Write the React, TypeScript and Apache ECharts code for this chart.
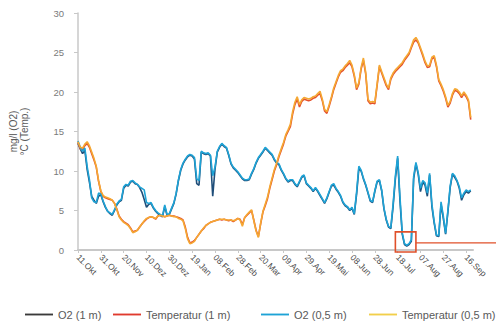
import React, { useEffect, useRef } from "react";
import * as echarts from "echarts";

// Messreihe: Werte alle 2 Tage ab dem 11. Oktober
const startDate = Date.UTC(2014, 9, 11);
const stepDays = 2;
const categoryCount = 174;
const monthNames = ["Jan", "Feb", "Mar", "Apr", "Mai", "Jun", "Jul", "Aug", "Sep", "Okt", "Nov", "Dez"];

const o2OneMeter = [
  13.5, 12.8, 12.2, 12.6, 10.2, 8.6, 6.8, 6.3, 5.9, 6.8,
  7.0, 6.1, 5.4, 4.9, 4.6, 4.4, 5.0, 5.7, 6.1, 6.3,
  7.8, 8.2, 8.1, 8.6, 8.7, 8.4, 8.3, 7.9, 7.3, 6.4,
  5.4, 5.8, 5.9, 5.3, 4.9, 4.6, 4.4, 4.2, 5.5, 4.4,
  4.5, 5.2, 5.9, 7.1, 8.8, 10.1, 10.9, 11.4, 11.8, 12.0,
  11.9, 11.5, 8.4, 8.2, 12.4, 12.2, 12.1, 12.2, 11.9, 6.8,
  10.2, 12.4, 13.0, 13.4, 13.1, 12.9, 12.0, 10.9, 10.4, 10.1,
  9.8, 9.4, 9.0, 8.8, 8.8, 8.9, 9.6, 10.2, 11.0, 11.6,
  12.0, 12.4, 12.9, 12.6, 12.3, 12.0, 11.4, 11.0, 10.8, 10.1,
  9.6, 9.0, 8.6, 8.8, 8.8, 8.3, 8.0, 8.6, 9.2, 9.4,
  8.4, 8.1, 7.8, 7.4, 7.8, 7.4, 6.9, 6.4, 5.9, 6.5,
  7.3, 8.1, 8.2, 7.7, 7.3, 6.8, 6.0, 5.6, 5.4, 5.0,
  5.3, 4.5, 7.0, 10.3, 10.0, 9.0, 8.2, 7.2, 6.2, 6.0,
  7.4, 8.6, 8.8, 7.5, 5.2, 3.8, 2.9, 2.7, 5.5, 9.0,
  11.6, 6.3, 2.0, 0.7, 0.5, 0.7, 1.1, 9.0, 10.9, 9.6,
  7.4, 8.6, 8.2, 6.8, 9.5, 5.5, 3.4, 1.8, 1.7, 5.8,
  4.0, 2.0, 4.8, 7.9, 9.6, 9.2, 8.7, 7.8, 6.3, 7.0,
  7.4, 7.2, 7.5,
];

const o2HalfMeter = [
  13.8, 13.0, 12.5, 12.9, 10.6, 8.9, 6.6, 6.1, 6.0, 7.2,
  7.1, 6.2, 5.5, 4.9, 4.7, 4.5, 5.1, 5.8, 6.2, 6.4,
  8.0, 8.3, 8.2, 8.7, 8.8, 8.5, 8.3, 8.0, 7.8, 7.6,
  6.0, 5.9, 6.0, 5.4, 5.0, 4.7, 4.5, 4.3, 5.7, 4.5,
  4.6, 5.3, 6.0, 7.2, 8.9, 10.2, 11.0, 11.5, 11.9, 12.1,
  12.0, 11.7, 9.0, 8.8, 12.5, 12.3, 12.2, 12.3, 12.0, 9.4,
  10.5, 12.5, 13.1, 13.5, 13.2, 13.0, 12.1, 11.0, 10.5, 10.2,
  9.9, 9.5, 9.1, 8.9, 8.9, 9.0, 9.7, 10.3, 11.1, 11.7,
  12.1, 12.5, 13.0, 12.7, 12.4, 12.1, 11.5, 11.1, 10.9, 10.2,
  9.7, 9.1, 8.7, 8.9, 8.9, 8.4, 8.1, 8.7, 9.3, 9.5,
  8.5, 8.2, 7.9, 7.5, 7.9, 7.5, 7.0, 6.5, 6.0, 6.6,
  7.4, 8.2, 8.4, 7.8, 7.4, 6.9, 6.1, 5.7, 5.5, 5.1,
  5.4, 4.6, 7.3, 10.6, 10.1, 9.1, 8.3, 7.3, 6.3, 6.1,
  7.5, 8.7, 8.9, 7.6, 5.3, 3.9, 3.0, 2.8, 5.8, 9.4,
  11.9, 6.8, 2.2, 0.8, 0.6, 0.8, 1.3, 9.3, 11.1, 9.8,
  7.8, 8.8, 8.5, 7.2, 9.7, 5.8, 3.6, 1.9, 1.8, 6.1,
  4.3, 2.1, 5.0, 8.1, 9.7, 9.4, 8.8, 8.0, 6.6, 7.2,
  7.6, 7.4, 7.6,
];

const tempOneMeter = [
  13.6, 12.8, 12.7, 13.2, 13.5, 13.0, 12.2, 11.4, 10.5, 8.7,
  7.4, 6.8, 6.6, 6.5, 6.4, 6.3, 5.9, 5.2, 4.3, 3.9,
  3.6, 3.4, 3.2, 2.8, 2.3, 2.4, 2.5, 2.9, 3.3, 3.6,
  3.9, 4.1, 4.2, 4.1, 3.9, 4.3, 4.4, 4.3, 4.2, 4.3,
  4.4, 4.3, 4.3, 4.2, 4.1, 4.0, 3.8, 2.9, 1.6, 0.9,
  1.0, 1.2, 1.6, 2.0, 2.4, 2.7, 3.1, 3.3, 3.5, 3.6,
  3.7, 3.8, 3.9, 3.8, 3.9, 3.8, 3.7, 3.8, 3.6, 3.8,
  4.0, 3.9, 3.2, 4.1, 4.4, 4.7, 5.0, 3.8, 2.5, 1.7,
  3.3, 4.8, 5.6, 6.5, 7.8, 8.9, 10.0, 10.8, 11.8, 12.6,
  13.4, 14.4, 15.0, 15.6, 17.2, 18.4, 19.1, 18.1, 18.8, 19.1,
  19.0, 18.9, 19.0, 19.2, 19.3, 19.6, 19.8, 18.9, 17.6, 17.3,
  18.2, 19.2, 20.3, 21.1, 21.9, 22.5, 22.7, 23.1, 23.4, 23.7,
  23.2, 22.0, 20.3, 21.0, 22.9, 24.0, 22.3, 18.9, 18.5, 18.6,
  18.5, 20.8, 23.2, 22.4, 21.6, 20.8, 20.3, 21.6, 22.2, 22.6,
  22.9, 23.2, 23.5, 24.0, 24.4, 24.8, 25.6, 26.3, 26.6, 26.2,
  25.4, 24.6, 23.7, 23.1, 23.2, 24.2, 24.4, 23.2, 21.4, 20.8,
  20.1, 19.2, 18.1, 18.6, 19.6, 20.2, 20.1, 19.8, 19.3, 19.8,
  19.4, 18.8, 16.5,
];

const tempHalfMeter = [
  13.7, 13.0, 12.9, 13.4, 13.7, 13.2, 12.4, 11.6, 10.6, 8.8,
  7.5, 6.9, 6.7, 6.6, 6.5, 6.3, 5.9, 5.1, 4.2, 3.8,
  3.5, 3.3, 3.1, 2.7, 2.2, 2.3, 2.5, 2.9, 3.3, 3.7,
  4.0, 4.1, 4.2, 4.1, 4.0, 4.3, 4.4, 4.3, 4.2, 4.3,
  4.4, 4.3, 4.2, 4.2, 4.0, 3.9, 3.7, 2.7, 1.4, 0.8,
  0.9, 1.1, 1.6, 2.0, 2.4, 2.8, 3.1, 3.3, 3.5, 3.6,
  3.7, 3.8, 3.9, 3.9, 3.9, 3.8, 3.8, 3.8, 3.7, 3.8,
  4.0, 3.8, 3.0, 4.1, 4.5, 4.8, 5.1, 3.7, 2.4, 1.6,
  3.4, 4.9, 5.8, 6.7, 8.0, 9.1, 10.2, 11.0, 12.0, 12.8,
  13.6, 14.6, 15.2, 15.9, 17.5, 18.7, 19.4, 18.4, 19.0, 19.3,
  19.2, 19.1, 19.2, 19.4, 19.5, 19.8, 20.1, 19.1, 17.8, 17.5,
  18.4, 19.4, 20.5, 21.3, 22.1, 22.7, 22.9, 23.3, 23.6, 24.0,
  23.4, 22.2, 20.5, 21.2, 23.1, 24.3, 22.5, 19.1, 18.7, 18.8,
  18.7, 21.0, 23.4, 22.6, 21.8, 21.0, 20.5, 21.8, 22.4, 22.8,
  23.1, 23.4, 23.7, 24.2, 24.6, 25.0, 25.8, 26.6, 26.9, 26.4,
  25.6, 24.8, 23.9, 23.3, 23.4, 24.4, 24.6, 23.4, 21.6, 21.0,
  20.3, 19.4, 18.3, 18.8, 19.8, 20.4, 20.3, 20.0, 19.5, 20.0,
  19.6, 19.0, 16.8,
];

// Hervorgehobener Sauerstoff-Tiefpunkt im Juli (Kategorie-Index, Messwert)
const lowBoxFrom = [139.3, 2.3];
const lowBoxTo = [147.6, 0];
const lowLineLevel = 0.9;

const seriesNames = ["O2 (1 m)", "Temperatur (1 m)", "O2 (0,5 m)", "Temperatur (0,5 m)"];
const seriesColors = ["#1f4e79", "#e4502c", "#1ea3d6", "#f5a833"];
const legendColors = ["#3a3a3a", "#e03a2e", "#1ea3d6", "#f2cf4a"];
const legendLefts = [20, 108, 256, 364];

function formatDay(index: number): string {
  const d = new Date(startDate + index * stepDays * 86400000);
  const day = String(d.getUTCDate()).padStart(2, "0");
  return `${day}.${monthNames[d.getUTCMonth()]}`;
}

const categories = Array.from({ length: categoryCount }, (_, i) => formatDay(i));

export default function App() {
  const ref = useRef<HTMLDivElement>(null);

  useEffect(() => {
    if (!ref.current) return;
    const chart = echarts.init(ref.current, null, { renderer: "svg" });
    const font = "'Liberation Sans', Arial, sans-serif";
    const values = [o2OneMeter, tempOneMeter, o2HalfMeter, tempHalfMeter];

    chart.setOption({
      animation: false,
      textStyle: { fontFamily: font },
      grid: { left: 63, right: 23, top: 13, bottom: 75, containLabel: false },
      // one legend block per series so each entry sits at its own position
      legend: seriesNames.map((n, i) => ({
        top: 304,
        left: legendLefts[i],
        itemWidth: 28,
        itemHeight: 10,
        itemGap: 0,
        icon: "path://M0,4 L30,4 L30,6 L0,6 Z",
        textStyle: { fontSize: 11, color: "#595959", fontFamily: font },
        data: [{ name: n, itemStyle: { color: legendColors[i] } }],
      })),
      xAxis: {
        type: "category",
        data: categories,
        boundaryGap: false,
        axisLine: { lineStyle: { color: "#c8c8c8", width: 2 } },
        axisTick: { show: true, interval: 9, length: 3, lineStyle: { color: "#c8c8c8" } },
        axisLabel: {
          interval: 9,
          rotate: -45,
          fontSize: 8.5,
          color: "#4a4a4a",
          margin: 6,
          fontFamily: font,
        },
        splitLine: { show: false },
      },
      yAxis: {
        type: "value",
        min: 0,
        max: 30,
        interval: 5,
        name: "mg/l (O2)\n°C (Temp.)",
        nameLocation: "middle",
        nameGap: 48,
        nameRotate: 90,
        nameTextStyle: { fontSize: 10, color: "#595959", lineHeight: 11, fontFamily: font },
        axisLine: { show: true, lineStyle: { color: "#c8c8c8", width: 1.5 } },
        axisTick: { show: true, length: 4, lineStyle: { color: "#c8c8c8" } },
        axisLabel: { fontSize: 9.5, color: "#7a7a7a", margin: 14, fontFamily: font },
        splitLine: { show: false },
      },
      series: seriesNames.map((name, i) => ({
        name,
        type: "line",
        data: values[i],
        showSymbol: false,
        symbol: "none",
        smooth: false,
        color: seriesColors[i],
        lineStyle: { width: 1.6, color: seriesColors[i] },
        z: 2 + i,
      })),
    });

    // Rahmen um den Tiefpunkt und Hinweislinie zum rechten Rand
    const p1 = chart.convertToPixel({ xAxisIndex: 0, yAxisIndex: 0 }, lowBoxFrom) as number[];
    const p2 = chart.convertToPixel({ xAxisIndex: 0, yAxisIndex: 0 }, lowBoxTo) as number[];
    const pl = chart.convertToPixel({ xAxisIndex: 0, yAxisIndex: 0 }, [lowBoxTo[0], lowLineLevel]) as number[];
    chart.setOption({
      graphic: [
        {
          type: "rect",
          z: 100,
          shape: { x: p1[0], y: p1[1], width: p2[0] - p1[0], height: p2[1] - p1[1] + 2 },
          style: { fill: "none", stroke: "#e0502a", lineWidth: 1.6 },
        },
        {
          type: "line",
          z: 100,
          shape: { x1: pl[0], y1: pl[1], x2: 496, y2: pl[1] },
          style: { stroke: "#e0502a", lineWidth: 1.3 },
        },
      ],
    });

    return () => chart.dispose();
  }, []);

  return (
    <div
      ref={ref}
      style={{ position: "fixed", left: 0, top: 0, width: 496, height: 325, background: "#ffffff" }}
    />
  );
}
